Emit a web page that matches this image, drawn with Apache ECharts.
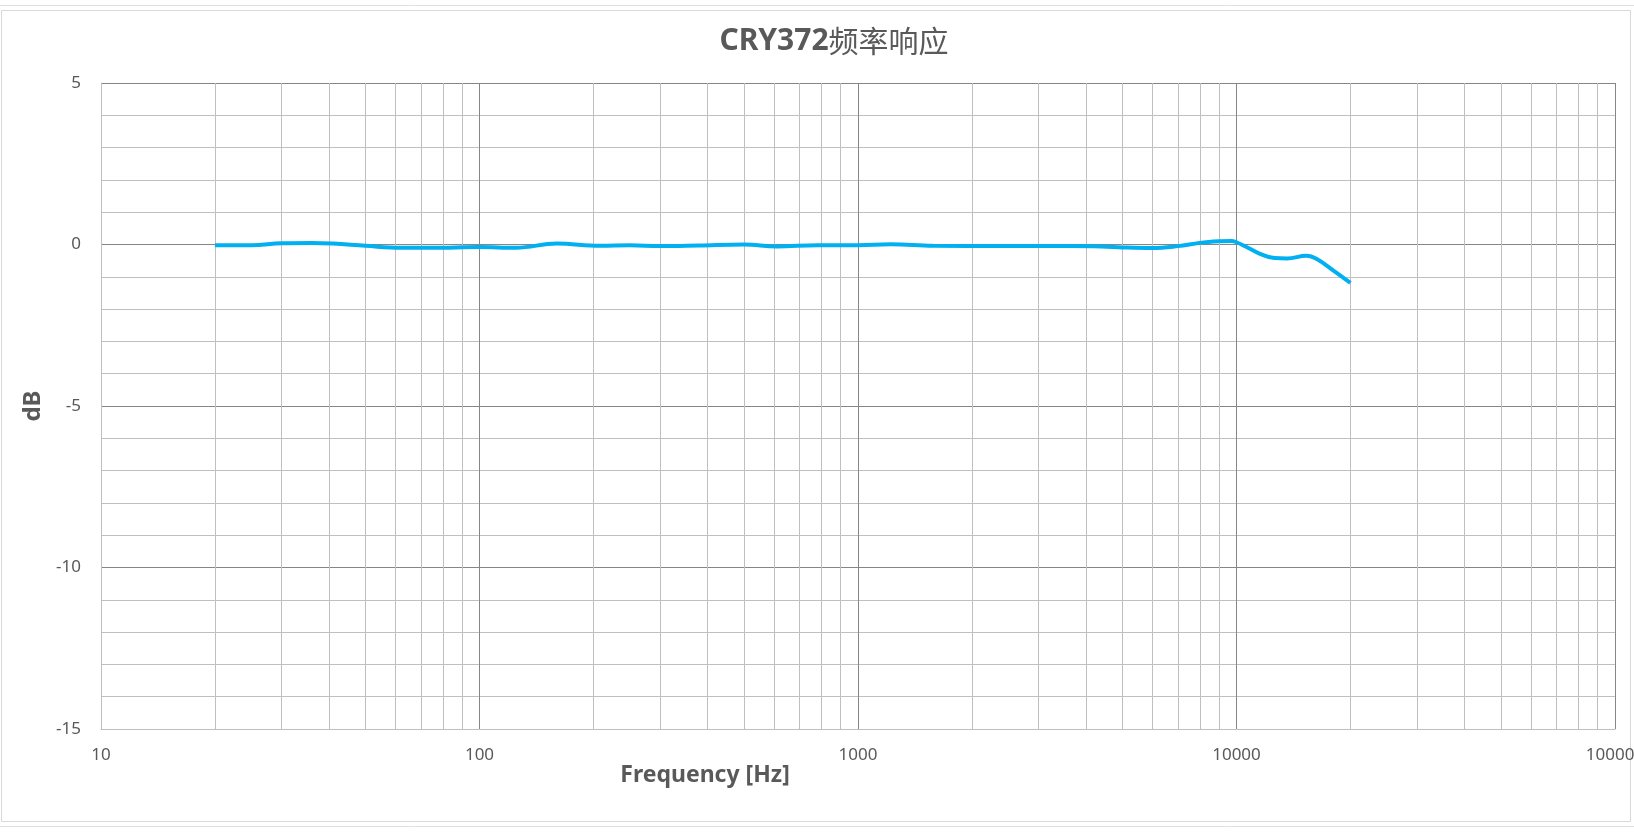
<!DOCTYPE html>
<html>
<head>
<meta charset="utf-8">
<script src="https://cdn.jsdelivr.net/npm/echarts@6/dist/echarts.min.js"></script>
<style>
html,body{margin:0;padding:0;background:#fff;}
#chart{width:1634px;height:832px;}
</style>
</head>
<body>
<div id="chart"></div>
<script>
// ---- data ----
const frequencies = [20, 25, 30, 36, 41, 50, 62, 75, 100, 125, 160, 208, 250, 300, 380, 500, 610, 780, 1000, 1220, 1580, 2400, 3500, 4400, 5000, 6000, 7000, 8000, 9000, 9700, 10000, 10600, 11500, 12600, 13600, 15300, 16300, 18000, 20000];
const responseDb = [-0.02, -0.02, 0.04, 0.05, 0.03, -0.04, -0.10, -0.10, -0.08, -0.10, 0.03, -0.04, -0.02, -0.05, -0.03, 0.00, -0.06, -0.02, -0.02, 0.01, -0.04, -0.05, -0.05, -0.06, -0.09, -0.11, -0.05, 0.05, 0.10, 0.11, 0.07, -0.07, -0.28, -0.42, -0.43, -0.35, -0.45, -0.80, -1.19];
const xDecades = [10, 100, 1000, 10000, 100000];
const yTicks = [-15, -10, -5, 0, 5];
const titleLatin = 'CRY372';
const titleCjk = '频率响应';
const xName = 'Frequency [Hz]';
const yName = 'dB';

// minor log grid values (2..9 per decade)
const xMinor = [];
for (let d = 0; d < xDecades.length - 1; d++) {
  for (let m = 2; m <= 9; m++) xMinor.push(xDecades[d] * m);
}

const chart = echarts.init(document.getElementById('chart'), null, {renderer: 'canvas'});
const txt = '#595959';
const major = '#868686';
const minor = '#bfbfbf';

chart.setOption({
  animation: false,
  backgroundColor: '#fff',
  textStyle: {fontFamily: 'Noto Sans, Noto Sans CJK SC, sans-serif'},
  grid: {left: 101, right: 19, top: 83, bottom: 103, containLabel: false, outerBoundsMode: 'none'},
  title: {
    text: '{a|' + titleLatin + '}{b|' + titleCjk + '}',
    left: 829, top: 21, textAlign: 'center',
    textStyle: {
      rich: {
        a: {fontSize: 30, fontWeight: 'bold', color: txt, fontFamily: 'Noto Sans, sans-serif'},
        b: {fontSize: 30, fontWeight: 'normal', color: txt, fontFamily: 'Noto Sans CJK SC, sans-serif'}
      }
    }
  },
  graphic: [
    {type: 'rect', shape: {x: 1.5, y: 10.5, width: 1629, height: 811}, style: {fill: 'none', stroke: '#d9d9d9', lineWidth: 1}, silent: true, z: -10},
    {type: 'line', shape: {x1: 0, y1: 5.5, x2: 1634, y2: 5.5}, style: {stroke: '#e0e0e0', lineWidth: 1}, silent: true, z: -10},
    {type: 'line', shape: {x1: 0, y1: 826.5, x2: 1634, y2: 826.5}, style: {stroke: '#e0e0e0', lineWidth: 1}, silent: true, z: -10},
    {type: 'text', x: 705, y: 775, style: {text: xName, fill: txt, font: 'bold 23px "Noto Sans", sans-serif', textAlign: 'center', textVerticalAlign: 'middle'}, silent: true}
  ],
  xAxis: {
    type: 'log', logBase: 10, min: xDecades[0], max: xDecades[xDecades.length - 1],
    axisLine: {show: true, onZero: false, lineStyle: {color: minor, width: 1}},
    axisTick: {show: false},
    axisLabel: {color: txt, fontSize: 17, margin: 18, showMaxLabel: true, showMinLabel: true, hideOverlap: false,
      formatter: v => String(Math.round(v))},
    splitLine: {show: true, showMinLine: false, lineStyle: {color: major, width: 1}}
  },
  yAxis: {
    type: 'value', min: yTicks[0], max: yTicks[yTicks.length - 1], interval: 5,
    name: yName, nameLocation: 'middle', nameGap: 54, nameRotate: 90,
    nameTextStyle: {color: txt, fontSize: 24, fontWeight: 'bold'},
    axisLine: {show: true, onZero: false, lineStyle: {color: minor, width: 1}},
    axisTick: {show: false},
    axisLabel: {color: txt, fontSize: 17, margin: 20},
    splitLine: {show: true, showMinLine: false, lineStyle: {color: major, width: 1}},
    minorTick: {show: false, splitNumber: 5},
    minorSplitLine: {show: true, lineStyle: {color: minor, width: 1}}
  },
  series: [
    {
      type: 'line', z: 1, silent: true, symbol: 'none',
      data: [],
      markLine: {
        silent: true, symbol: ['none', 'none'], label: {show: false},
        lineStyle: {color: minor, width: 1, type: 'solid'},
        data: xMinor.map(v => ({xAxis: v}))
      }
    },
    {
      type: 'line', z: 5, symbol: 'none', smooth: 0.4,
      lineStyle: {color: '#00b0f0', width: 4},
      data: frequencies.map((f, i) => [f, responseDb[i]])
    }
  ]
});
</script>
</body>
</html>
